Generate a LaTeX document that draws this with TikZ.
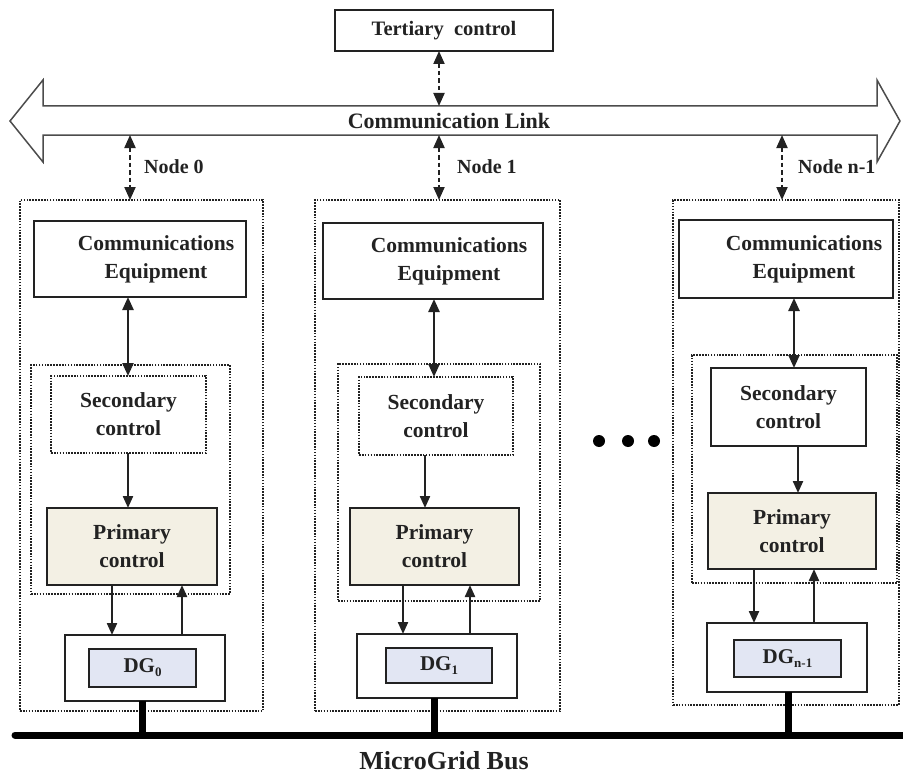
\documentclass[tikz,border=0pt]{standalone}
\usepackage{fontspec}
\setmainfont{Liberation Serif}
\usetikzlibrary{arrows.meta,calc}
\definecolor{primfill}{HTML}{F3F0E4}
\definecolor{dgfill}{HTML}{E2E6F3}
\definecolor{ink}{HTML}{222222}
\begin{document}
\begin{tikzpicture}[x=1pt,y=-1pt,
  box/.style={draw=ink,line width=1.6pt,inner sep=0pt,outer sep=0pt,fill=white},
  dotbox/.style={draw=ink,line width=1.2pt,dash pattern=on 1.6pt off 1.3pt,inner sep=0pt,outer sep=0pt},
  txt/.style={font=\fontsize{21.5}{28}\selectfont\bfseries,align=center,text=ink},
  primbox/.style={box,fill=primfill,txt},
  dgbox/.style={draw=ink,line width=1.4pt,fill=dgfill,inner sep=0pt,outer sep=0pt,font=\fontsize{21}{24}\selectfont\bfseries,text=ink},
  dasharrow/.style={{Triangle[length=13pt,width=11pt]}-{Triangle[length=13pt,width=11pt]},line width=2pt,dash pattern=on 4.5pt off 3pt,draw=ink},
  dblarrow/.style={{Triangle[length=13pt,width=11pt]}-{Triangle[length=13pt,width=11pt]},line width=2.4pt,draw=ink},
  onearrow/.style={-{Triangle[length=12pt,width=10pt]},line width=2.2pt,draw=ink},
  buswire/.style={line width=7pt,draw=black},
  nodelabel/.style={anchor=west,font=\fontsize{20}{24}\selectfont\bfseries,text=ink,inner sep=0pt}
]
\useasboundingbox (0,0) rectangle (903,776);

% Tertiary control
\node[box,txt,font=\fontsize{20.5}{24}\selectfont\bfseries,minimum width=218pt,minimum height=41pt] (tert) at (444,30.5) {Tertiary\ \ control};

% Communication link (big double arrow)
\draw[draw=black!70,line width=1.5pt,fill=white,line join=miter]
  (10,121) -- (43,80) -- (43,106) -- (877,106) -- (877,80) -- (900,121)
  -- (877,162) -- (877,135) -- (43,135) -- (43,162) -- cycle;
\node[inner sep=0pt,outer sep=0pt,minimum width=834pt,minimum height=29pt] (band) at (460,120.5) {};
\node[txt,font=\fontsize{22}{24}\selectfont\bfseries,inner sep=0pt] (link) at (449,121) {Communication Link};

% ---------- Node 0 ----------
\node[dotbox,minimum width=243pt,minimum height=511pt] (outer0) at (141.5,455.5) {};
\node[box,txt,minimum width=212pt,minimum height=76pt] (comm0) at (140,259) {\hspace*{32pt}Communications\\\hspace*{32pt}Equipment};
\node[dotbox,minimum width=199pt,minimum height=229pt] (inner0) at (130.5,479.5) {};
\node[dotbox,txt,minimum width=155pt,minimum height=77pt] (sec0) at (128.5,414.5) {Secondary\\control};
\node[primbox,minimum width=170pt,minimum height=77pt] (prim0) at (132,546.5) {Primary\\control};
\node[box,minimum width=160pt,minimum height=66pt] (dgo0) at (145,668) {};
\node[dgbox,minimum width=107pt,minimum height=38pt] (dgi0) at (142.5,668) {DG\raisebox{-4pt}{\fontsize{13}{13}\selectfont 0}};

% ---------- Node 1 ----------
\node[dotbox,minimum width=245pt,minimum height=511pt] (outer1) at (437.5,455.5) {};
\node[box,txt,minimum width=220pt,minimum height=76pt] (comm1) at (433,261) {\hspace*{32pt}Communications\\\hspace*{32pt}Equipment};
\node[dotbox,minimum width=202pt,minimum height=237pt] (inner1) at (439,482.5) {};
\node[dotbox,txt,minimum width=154pt,minimum height=78pt] (sec1) at (436,416) {Secondary\\control};
\node[primbox,minimum width=169pt,minimum height=77pt] (prim1) at (434.5,546.5) {Primary\\control};
\node[box,minimum width=160pt,minimum height=64pt] (dgo1) at (437,666) {};
\node[dgbox,minimum width=106pt,minimum height=35pt] (dgi1) at (439,665.5) {DG\raisebox{-4pt}{\fontsize{13}{13}\selectfont 1}};

% ---------- Node n-1 ----------
\node[dotbox,minimum width=226pt,minimum height=505pt] (outer2) at (786,452.5) {};
\node[box,txt,minimum width=214pt,minimum height=78pt] (comm2) at (786,259) {\hspace*{36pt}Communications\\\hspace*{36pt}Equipment};
\node[dotbox,minimum width=205pt,minimum height=228pt] (inner2) at (794.5,469) {};
\node[box,txt,minimum width=155pt,minimum height=78pt] (sec2) at (788.5,407) {Secondary\\control};
\node[primbox,minimum width=168pt,minimum height=76pt] (prim2) at (792,531) {Primary\\control};
\node[box,minimum width=160pt,minimum height=69pt] (dgo2) at (787,657.5) {};
\node[dgbox,minimum width=107pt,minimum height=37pt] (dgi2) at (787.5,658.5) {DG\raisebox{-4pt}{\fontsize{13}{13}\selectfont n-1}};

% x positions of connectors
\coordinate (t0) at (439,0);
\coordinate (a0) at (130,0);  \coordinate (a1) at (439,0);  \coordinate (a2) at (782,0);
\coordinate (c0) at (128,0);  \coordinate (c1) at (434,0);  \coordinate (c2) at (794,0);
\coordinate (s0) at (128,0);  \coordinate (s1) at (425,0);  \coordinate (s2) at (798,0);
\coordinate (d0) at (112,0);  \coordinate (d1) at (403,0);  \coordinate (d2) at (754,0);
\coordinate (u0) at (182,0);  \coordinate (u1) at (470,0);  \coordinate (u2) at (814,0);
\coordinate (b0) at (142,0);  \coordinate (b1) at (434,0);  \coordinate (b2) at (788,0);

% tertiary <-> link
\draw[dasharrow] (tert.south -| t0) -- (band.north -| t0);
% link <-> nodes
\draw[dasharrow] (band.south -| a0) -- (outer0.north -| a0);
\draw[dasharrow] (band.south -| a1) -- (outer1.north -| a1);
\draw[dasharrow] (band.south -| a2) -- (outer2.north -| a2);
\node[nodelabel] (lab0) at (144,167) {Node 0};
\node[nodelabel] (lab1) at (457,167) {Node 1};
\node[nodelabel] (lab2) at (798,167) {Node n-1};

% inside nodes
\foreach \i in {0,1,2}{
  \draw[dblarrow] (comm\i.south -| c\i) -- (sec\i.north -| c\i);
  \draw[onearrow] (sec\i.south -| s\i) -- (prim\i.north -| s\i);
  \draw[onearrow] (prim\i.south -| d\i) -- (dgo\i.north -| d\i);
  \draw[onearrow] (dgo\i.north -| u\i) -- (prim\i.south -| u\i);
}

% dots
\fill[black] (599,441) circle (6);
\fill[black] (628,441) circle (6);
\fill[black] (654,441) circle (6);

% MicroGrid bus
\coordinate (busL) at (15,735);
\coordinate (busR) at (903,735);
\draw[buswire,line cap=round] (busL) -- (busR);
\foreach \i in {0,1,2}{
  \draw[buswire] (dgo\i.south -| b\i) -- (busL -| b\i);
}
\node[txt,font=\fontsize{26}{28}\selectfont\bfseries,inner sep=0pt] (busname) at (444,761) {MicroGrid Bus};
\end{tikzpicture}
\end{document}
